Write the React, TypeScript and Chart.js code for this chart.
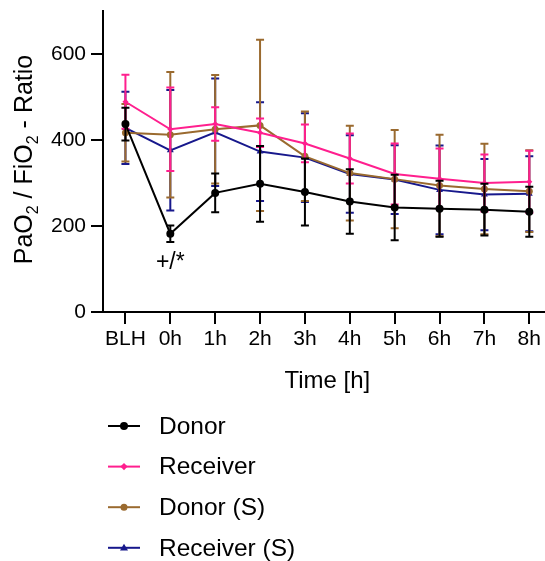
import { useEffect, useRef } from 'react';
import { Chart, registerables } from 'chart.js';

Chart.register(...registerables);

const FONT = "'Liberation Sans', Arial, Helvetica, sans-serif";

// ---- data ----
const timeLabels = ['BLH', '0h', '1h', '2h', '3h', '4h', '5h', '6h', '7h', '8h'];

const donorMean = [437, 182, 277, 298, 279, 257, 243, 240, 238, 233];
const donorSD = [38, 19, 45, 88, 78, 75, 76, 65, 60, 58];

const receiverMean = [489, 425, 437, 417, 392, 357, 321, 310, 300, 303];
const receiverSD = [63, 97, 39, 33, 44, 58, 71, 70, 66, 72];

const donorSMean = [417, 412, 425, 434, 362, 323, 309, 294, 286, 281];
const donorSSD = [67, 146, 126, 199, 104, 110, 114, 118, 105, 95];

const receiverSMean = [428, 376, 418, 373, 359, 321, 308, 284, 273, 275];
const receiverSSD = [84, 140, 125, 115, 103, 90, 80, 103, 83, 87];

const seriesNames = ['Donor', 'Receiver', 'Donor (S)', 'Receiver (S)'];
const seriesColors = ['#000000', '#ff1f8e', '#9a6a2f', '#17188c'];
const seriesPointStyles = ['circle', 'rectRot', 'circle', 'triangle'];
const seriesRadii = [4, 3, 3.5, 4];

const yTickValues = [0, 200, 400, 600];
const yMin = 0;
const yMax = 700;

const annotationText = '+/*';
const annotationIndex = 1;
const annotationValue = 115;

const yTitleParts = [
  { t: 'PaO', sub: false },
  { t: '2', sub: true },
  { t: ' / FiO', sub: false },
  { t: '2', sub: true },
  { t: ' - Ratio', sub: false },
];
const xTitle = 'Time [h]';

const means = [donorMean, receiverMean, donorSMean, receiverSMean];
const sds = [donorSD, receiverSD, donorSSD, receiverSSD];

const errorBarPlugin = {
  id: 'errorBars',
  beforeDatasetDraw(chart: any, args: any) {
    const i = args.index;
    const meta = chart.getDatasetMeta(i);
    const ys = chart.scales.y;
    const ctx = chart.ctx;
    const m = means[i];
    const s = sds[i];
    ctx.save();
    ctx.strokeStyle = seriesColors[i];
    ctx.lineWidth = 2;
    meta.data.forEach((pt: any, j: number) => {
      const top = ys.getPixelForValue(m[j] + s[j]);
      const bot = ys.getPixelForValue(m[j] - s[j]);
      const x = pt.x;
      ctx.beginPath();
      ctx.moveTo(x, top);
      ctx.lineTo(x, bot);
      ctx.moveTo(x - 4, top);
      ctx.lineTo(x + 4, top);
      ctx.moveTo(x - 4, bot);
      ctx.lineTo(x + 4, bot);
      ctx.stroke();
    });
    ctx.restore();
  },
};

function drawMarker(ctx: CanvasRenderingContext2D, style: string, x: number, y: number, r: number, color: string) {
  ctx.fillStyle = color;
  ctx.beginPath();
  if (style === 'circle') {
    ctx.arc(x, y, r, 0, Math.PI * 2);
  } else if (style === 'rectRot') {
    ctx.moveTo(x, y - r * 1.2);
    ctx.lineTo(x + r * 1.2, y);
    ctx.lineTo(x, y + r * 1.2);
    ctx.lineTo(x - r * 1.2, y);
    ctx.closePath();
  } else {
    ctx.moveTo(x, y - r);
    ctx.lineTo(x + r, y + r * 0.7);
    ctx.lineTo(x - r, y + r * 0.7);
    ctx.closePath();
  }
  ctx.fill();
}

const decorPlugin = {
  id: 'decor',
  afterDraw(chart: any) {
    const ctx: CanvasRenderingContext2D = chart.ctx;
    const xs = chart.scales.x;
    const ys = chart.scales.y;
    const area = chart.chartArea;
    ctx.save();
    ctx.fillStyle = '#000';

    // Y title with subscripts
    const mainSize = 25;
    const subSize = 16;
    let total = 0;
    yTitleParts.forEach((p) => {
      ctx.font = `${p.sub ? subSize : mainSize}px ${FONT}`;
      total += ctx.measureText(p.t).width;
    });
    ctx.save();
    ctx.translate(32, (area.top + area.bottom) / 2 - 2);
    ctx.rotate(-Math.PI / 2);
    ctx.textBaseline = 'alphabetic';
    ctx.textAlign = 'left';
    let cx = -total / 2;
    yTitleParts.forEach((p) => {
      ctx.font = `${p.sub ? subSize : mainSize}px ${FONT}`;
      ctx.fillText(p.t, cx, p.sub ? 6 : 0);
      cx += ctx.measureText(p.t).width;
    });
    ctx.restore();

    // X title
    ctx.font = `24px ${FONT}`;
    ctx.textAlign = 'center';
    ctx.textBaseline = 'alphabetic';
    const midX = (xs.getPixelForValue(0) + xs.getPixelForValue(timeLabels.length - 1)) / 2;
    ctx.fillText(xTitle, midX, 388);

    // Annotation
    ctx.font = `23px ${FONT}`;
    ctx.textBaseline = 'middle';
    ctx.fillText(annotationText, xs.getPixelForValue(annotationIndex), ys.getPixelForValue(annotationValue));

    // Legend
    const lx0 = 108;
    const lx1 = 140;
    const ly0 = 426;
    const step = 40.6;
    seriesNames.forEach((name, i) => {
      const y = ly0 + i * step;
      ctx.strokeStyle = seriesColors[i];
      ctx.lineWidth = 2;
      ctx.beginPath();
      ctx.moveTo(lx0, y);
      ctx.lineTo(lx1, y);
      ctx.stroke();
      drawMarker(ctx, seriesPointStyles[i], (lx0 + lx1) / 2, y, seriesRadii[i], seriesColors[i]);
      ctx.fillStyle = '#000';
      ctx.font = `24.5px ${FONT}`;
      ctx.textAlign = 'left';
      ctx.textBaseline = 'middle';
      ctx.fillText(name, 159, y + 1);
    });
    ctx.restore();
  },
};

export default function App() {
  const ref = useRef<HTMLCanvasElement>(null);
  useEffect(() => {
    const datasets = seriesNames.map((name, i) => ({
      label: name,
      data: means[i].map((v, j) => ({ x: j, y: v })),
      borderColor: seriesColors[i],
      backgroundColor: seriesColors[i],
      borderWidth: 2,
      pointStyle: seriesPointStyles[i] as any,
      pointRadius: seriesRadii[i],
      pointBorderWidth: 0,
      pointBackgroundColor: seriesColors[i],
      tension: 0,
      fill: false,
    }));
    const chart = new Chart(ref.current as HTMLCanvasElement, {
      type: 'line',
      data: { datasets },
      plugins: [errorBarPlugin, decorPlugin],
      options: {
        responsive: false,
        animation: false,
        layout: { padding: { top: 11, left: 0, right: 0, bottom: 0 }, autoPadding: false } as any,
        plugins: { legend: { display: false }, tooltip: { enabled: false } },
        scales: {
          x: {
            type: 'linear',
            min: -0.5,
            max: 9.35,
            afterBuildTicks: (s: any) => {
              s.ticks = timeLabels.map((_, i) => ({ value: i }));
            },
            afterFit: (s: any) => {
              s.height = 249;
              s.paddingLeft = 0;
              s.paddingRight = 0;
              s.paddingTop = 0;
              s.paddingBottom = 0;
            },
            ticks: {
              callback: (v: any) => timeLabels[v] ?? '',
              font: { family: FONT, size: 21 },
              color: '#000',
              padding: 3,
              autoSkip: false,
              maxRotation: 0,
            },
            grid: { drawOnChartArea: false, drawTicks: true, tickLength: 12, color: '#000', lineWidth: 2 },
            border: { display: true, color: '#000', width: 2 },
          },
          y: {
            type: 'linear',
            min: yMin,
            max: yMax,
            afterBuildTicks: (s: any) => {
              s.ticks = yTickValues.map((v) => ({ value: v }));
            },
            afterFit: (s: any) => {
              s.width = 103;
              s.paddingLeft = 0;
              s.paddingRight = 0;
              s.paddingTop = 0;
              s.paddingBottom = 0;
            },
            ticks: {
              font: { family: FONT, size: 21 },
              color: '#000',
              padding: 5,
            },
            grid: { drawOnChartArea: false, drawTicks: true, tickLength: 12, color: '#000', lineWidth: 2 },
            border: { display: true, color: '#000', width: 2 },
          },
        },
      },
    });
    return () => chart.destroy();
  }, []);
  return (
    <div style={{ position: 'absolute', left: 0, top: 0, width: 545, height: 561, background: '#fff' }}>
      <canvas ref={ref} width={545} height={561} style={{ display: 'block', width: 545, height: 561 }} />
    </div>
  );
}
